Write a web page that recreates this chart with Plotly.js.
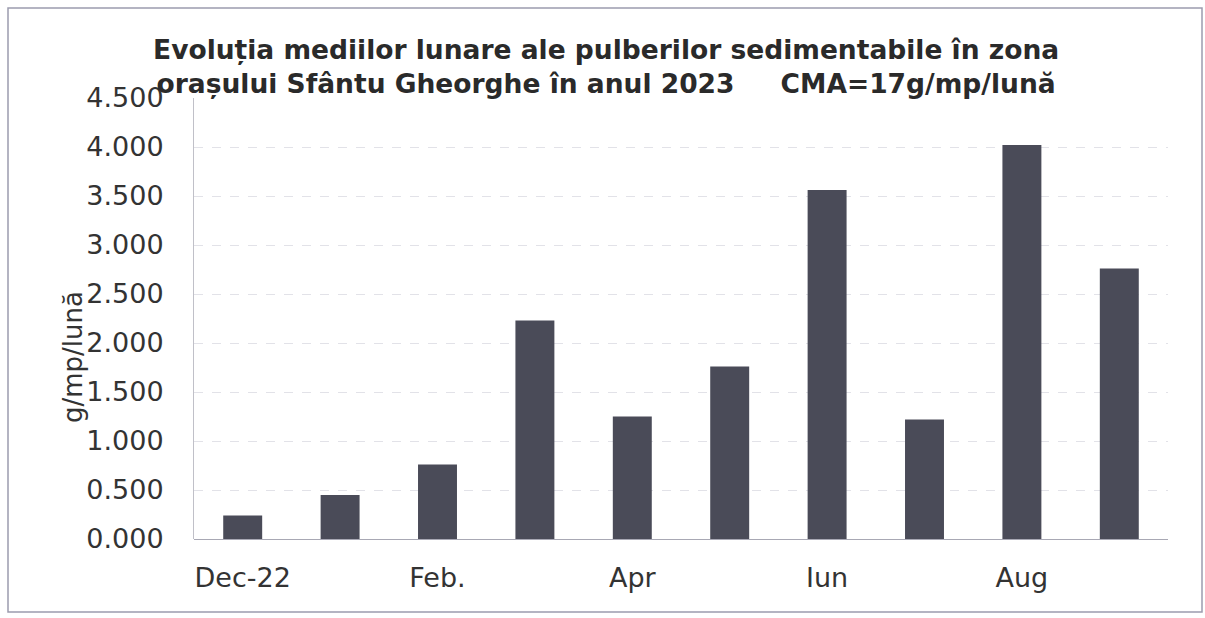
<!DOCTYPE html>
<html>
<head>
<meta charset="utf-8">
<script src="https://cdn.plot.ly/plotly-3.0.1.min.js"></script>
<style>html,body{margin:0;padding:0;background:#fff;}#chart{width:1205px;height:618px;}</style>
</head>
<body>
<div id="chart"></div>
<script>
const months = ["Dec-22", "Ian", "Feb.", "Mar", "Apr", "Mai", "Iun", "Iul", "Aug", "Sep"];
const values = [0.24, 0.45, 0.76, 2.23, 1.25, 1.76, 3.56, 1.22, 4.02, 2.76];
const tickLabels = ["Dec-22", "Feb.", "Apr", "Iun", "Aug"];
const yTicks = [0, 0.5, 1, 1.5, 2, 2.5, 3, 3.5, 4, 4.5];

const font = "DejaVu Sans, Liberation Sans, Arial, sans-serif";
const trace = {
  type: "bar",
  x: months,
  y: values,
  marker: {color: "#4a4b58", line: {width: 0}},
  hoverinfo: "x+y"
};
const layout = {
  width: 1205, height: 618,
  margin: {l: 194, r: 37, t: 98, b: 79},
  paper_bgcolor: "#ffffff", plot_bgcolor: "#ffffff",
  showlegend: false,
  bargap: 0.6,
  font: {family: font, color: "#333333"},
  title: {
    text: "<b>Evoluția mediilor lunare ale pulberilor sedimentabile în zona<br>orașului Sfântu Gheorghe în anul 2023\u00A0\u00A0\u00A0\u00A0\u00A0CMA=17g/mp/lună</b>",
    font: {family: font, size: 26.5, color: "#2a2a2a"},
    x: 0.503, xanchor: "center", y: 0.905, yanchor: "middle"
  },
  xaxis: {
    type: "category",
    tickmode: "array",
    tickvals: tickLabels,
    ticktext: tickLabels,
    showgrid: false,
    showline: false,
    ticks: "",
    tickfont: {family: font, size: 27, color: "#333333"},
    ticklabelstandoff: 20,
    fixedrange: true
  },
  yaxis: {
    range: [0, 4.5],
    tickmode: "array",
    tickvals: yTicks,
    tickformat: ".3f",
    showgrid: true,
    gridcolor: "#e2e2e8",
    griddash: "dash",
    gridwidth: 1,
    zeroline: true,
    zerolinecolor: "#a8a8b4",
    zerolinewidth: 1,
    showline: true,
    linecolor: "#c0c0c8",
    linewidth: 1,
    ticks: "",
    tickfont: {family: font, size: 27, color: "#333333"},
    ticklabelstandoff: 24,
    fixedrange: true
  },
  annotations: [{
    text: "g/mp/lună",
    xref: "paper", yref: "paper",
    x: (73 - 194) / 974, y: (539 - 357) / 441,
    xanchor: "center", yanchor: "middle",
    textangle: -90,
    showarrow: false,
    font: {family: font, size: 26, color: "#333333"}
  }],
  shapes: [{
    type: "rect", xref: "paper", yref: "paper",
    x0: (8 - 194) / 974, x1: (1202 - 194) / 974,
    y0: (539 - 612) / 441, y1: (539 - 8) / 441,
    line: {color: "#9c9cae", width: 1.5},
    fillcolor: "rgba(0,0,0,0)",
    layer: "below"
  }]
};
Plotly.newPlot("chart", [trace], layout, {displayModeBar: false, staticPlot: true});
</script>
</body>
</html>
